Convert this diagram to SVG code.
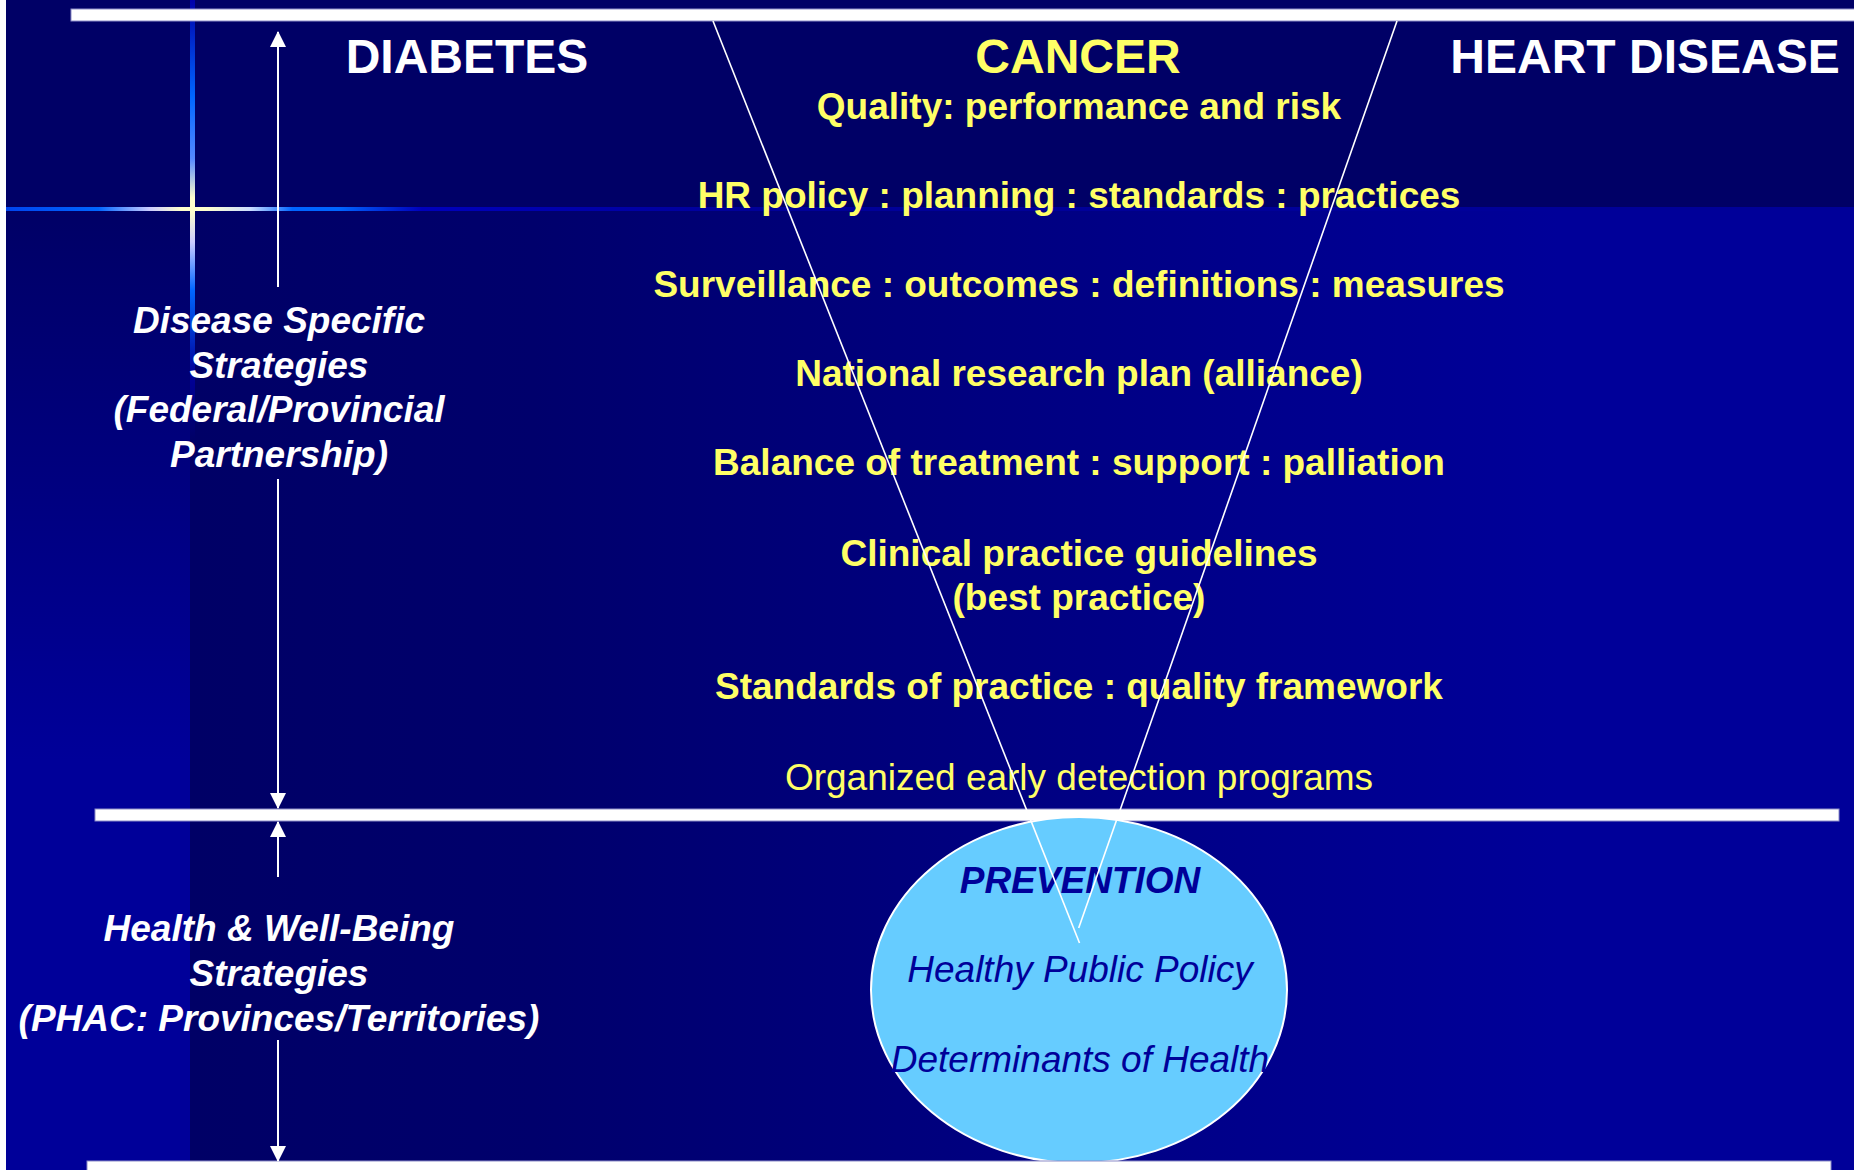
<svg xmlns="http://www.w3.org/2000/svg" width="1854" height="1170" viewBox="0 0 1854 1170">
  <defs>
    <style>
      .hdr { font-family: "Liberation Sans", Arial, sans-serif; font-weight: bold; font-size: 48px; text-anchor: middle; }
      .item { font-family: "Liberation Sans", Arial, sans-serif; font-weight: bold; font-size: 37px; fill: #ffff66; text-anchor: middle; }
      .item-plain { font-family: "Liberation Sans", Arial, sans-serif; font-size: 37px; fill: #ffff66; text-anchor: middle; }
      .side { font-family: "Liberation Sans", Arial, sans-serif; font-weight: bold; font-style: italic; font-size: 37px; fill: #ffffff; text-anchor: middle; }
      .prev { font-family: "Liberation Sans", Arial, sans-serif; font-style: italic; font-size: 37px; fill: #000099; text-anchor: middle; }
      .bar { fill: #ffffff; stroke: #8c8cc8; stroke-width: 1; }
      .arrow { stroke: #ffffff; stroke-width: 2; fill: none; marker-end: url(#head); }
      .funnel { stroke: #ffffff; stroke-width: 1.6; fill: none; }
    </style>
    <marker id="head" markerUnits="userSpaceOnUse" markerWidth="16" markerHeight="16" refX="15" refY="8" orient="auto">
      <path d="M0,0 L16,8 L0,16 z" fill="#ffffff"/>
    </marker>
    <linearGradient id="lowerMain" gradientUnits="userSpaceOnUse" x1="190" y1="0" x2="1560" y2="0">
      <stop offset="0" stop-color="#000066"/>
      <stop offset="0.25" stop-color="#00006c"/>
      <stop offset="1" stop-color="#000099"/>
    </linearGradient>
    <linearGradient id="leftStrip" gradientUnits="userSpaceOnUse" x1="0" y1="211" x2="0" y2="760">
      <stop offset="0" stop-color="#000066"/>
      <stop offset="1" stop-color="#000099"/>
    </linearGradient>
    <linearGradient id="glowV" gradientUnits="userSpaceOnUse" x1="0" y1="0" x2="0" y2="440">
      <stop offset="0" stop-color="#0000aa"/>
      <stop offset="0.22" stop-color="#0066ff"/>
      <stop offset="0.36" stop-color="#5588ff"/>
      <stop offset="0.45" stop-color="#ffffcc"/>
      <stop offset="0.48" stop-color="#ffffcc"/>
      <stop offset="0.55" stop-color="#ccccff"/>
      <stop offset="0.66" stop-color="#0066ff"/>
      <stop offset="0.85" stop-color="#000099"/>
      <stop offset="1" stop-color="#000099" stop-opacity="0"/>
    </linearGradient>
    <linearGradient id="glowH" gradientUnits="userSpaceOnUse" x1="6" y1="0" x2="1854" y2="0">
      <stop offset="0" stop-color="#0044ee"/>
      <stop offset="0.05" stop-color="#0066ff"/>
      <stop offset="0.078" stop-color="#ccccff"/>
      <stop offset="0.095" stop-color="#ffffcc"/>
      <stop offset="0.108" stop-color="#ffffcc"/>
      <stop offset="0.132" stop-color="#ccddff"/>
      <stop offset="0.155" stop-color="#0066ff"/>
      <stop offset="0.18" stop-color="#0066ff"/>
      <stop offset="0.225" stop-color="#0000bb"/>
      <stop offset="0.4" stop-color="#000099"/>
      <stop offset="1" stop-color="#000099"/>
    </linearGradient>
  </defs>

  <!-- backdrop -->
  <g id="backdrop">
    <rect x="0" y="0" width="1854" height="1170" fill="#000066"/>
    <rect x="190" y="211" width="1664" height="959" fill="url(#lowerMain)"/>
    <rect x="6" y="211" width="184" height="959" fill="url(#leftStrip)"/>
    <rect x="0" y="0" width="6" height="1170" fill="#ffffff"/>
    <rect x="190" y="0" width="5" height="440" fill="url(#glowV)"/>
    <rect x="6" y="207" width="1848" height="4" fill="url(#glowH)"/>
  </g>

  <!-- horizontal tiers -->
  <g id="tiers">
    <rect class="bar" x="71" y="9" width="1790" height="12"/>
    <rect class="bar" x="95" y="809" width="1744" height="12"/>
  </g>

  <!-- prevention base -->
  <g id="prevention">
    <ellipse cx="1079" cy="990" rx="208" ry="173" fill="#66ccff" stroke="#ffffff" stroke-width="2"/>
    <text class="prev" x="1080" y="893" font-weight="bold">PREVENTION</text>
    <text class="prev" x="1080" y="982">Healthy Public Policy</text>
    <text class="prev" x="1080" y="1072">Determinants of Health</text>
  </g>

  <g id="tier-bottom">
    <rect class="bar" x="87" y="1161" width="1744" height="12"/>
  </g>

  <!-- column headings -->
  <g id="diabetes"><text class="hdr" x="467" y="73" fill="#ffffff">DIABETES</text></g>
  <g id="cancer"><text class="hdr" x="1078" y="73" fill="#ffff66">CANCER</text></g>
  <g id="heart-disease"><text class="hdr" x="1645" y="73" fill="#ffffff">HEART DISEASE</text></g>

  <!-- cancer strategy items -->
  <g id="item-quality"><text class="item" x="1079" y="119">Quality: performance and risk</text></g>
  <g id="item-hr"><text class="item" x="1079" y="208">HR policy : planning : standards : practices</text></g>
  <g id="item-surveillance"><text class="item" x="1079" y="297">Surveillance : outcomes : definitions : measures</text></g>
  <g id="item-research"><text class="item" x="1079" y="386">National research plan (alliance)</text></g>
  <g id="item-balance"><text class="item" x="1079" y="475">Balance of treatment : support : palliation</text></g>
  <g id="item-guidelines">
    <text class="item" x="1079" y="566">Clinical practice guidelines</text>
    <text class="item" x="1079" y="610">(best practice)</text>
  </g>
  <g id="item-standards"><text class="item" x="1079" y="699">Standards of practice : quality framework</text></g>
  <g id="item-detection"><text class="item-plain" x="1079" y="790">Organized early detection programs</text></g>

  <!-- side labels -->
  <g id="disease-specific">
    <text class="side" x="279" y="333">Disease Specific</text>
    <text class="side" x="279" y="378">Strategies</text>
    <text class="side" x="279" y="422">(Federal/Provincial</text>
    <text class="side" x="279" y="467">Partnership)</text>
  </g>
  <g id="health-wellbeing">
    <text class="side" x="279" y="941">Health &amp; Well-Being</text>
    <text class="side" x="279" y="986">Strategies</text>
    <text class="side" x="279" y="1031">(PHAC: Provinces/Territories)</text>
  </g>

  <!-- connectors: span arrows and the funnel -->
  <g id="connectors">
    <line class="arrow" x1="278" y1="287" x2="278" y2="32"/>
    <line class="arrow" x1="278" y1="479" x2="278" y2="808"/>
    <line class="arrow" x1="278" y1="877" x2="278" y2="822"/>
    <line class="arrow" x1="278" y1="1040" x2="278" y2="1161"/>
    <line class="funnel" x1="713" y1="21" x2="1079.5" y2="943"/>
    <line class="funnel" x1="1397" y1="21" x2="1078.7" y2="928"/>
  </g>
</svg>
